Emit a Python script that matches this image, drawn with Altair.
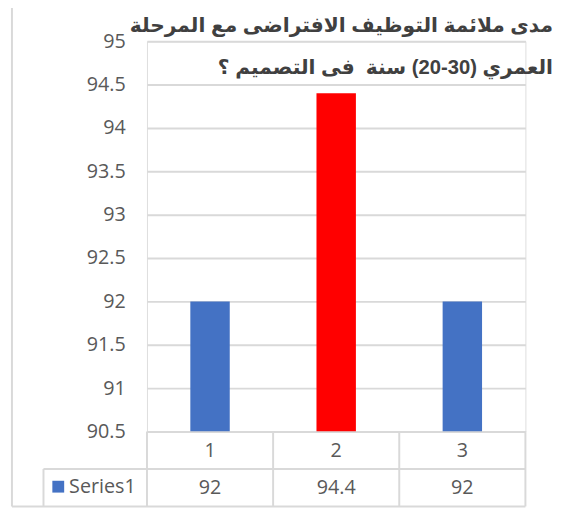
import altair as alt
import pandas as pd

categories = ["1", "2", "3"]
values = [92, 94.4, 92]
bar_colors = ["#4472C4", "#FF0000", "#4472C4"]
y_ticks = [90.5, 91, 91.5, 92, 92.5, 93, 93.5, 94, 94.5, 95]
series_name = "Series1"
series_color = "#4472C4"
RLE, LRE, PDF = "\u202b", "\u202a", "\u202c"
title_lines = [
    "مدى ملائمة التوظيف الافتراضى مع المرحلة",
    "العمري (" + LRE + "20-30" + PDF + ") سنة\u00a0 فى التصميم ؟",
]

df = pd.DataFrame({
    "cat": categories,
    "val": values,
    "label": [f"{v:g}" for v in values],
})

W, H = 384, 396
GRID = "#D9D9D9"
TXT = "#595959"
FONT = "Open Sans"
FS = 20
TITLE_FONT = "Liberation Sans, DejaVu Sans"

x_enc = alt.X(
    "cat:N", sort=categories,
    scale=alt.Scale(paddingInner=0.6875, paddingOuter=0.34375),
    axis=alt.Axis(title=None, labelAngle=0, ticks=False, domain=False, grid=False,
                  labelFont=FONT, labelFontSize=FS, labelColor=TXT,
                  labelPadding=19, labelBaseline="middle"),
)
y_enc = alt.Y(
    "val:Q",
    scale=alt.Scale(domain=[90.5, 95], zero=False, nice=False),
    axis=alt.Axis(title=None, values=y_ticks, format=".1~f", ticks=False, domain=False,
                  grid=True, gridColor=GRID, gridWidth=2,
                  labelFont=FONT, labelFontSize=FS, labelColor=TXT,
                  labelPadding=22, labelFlush=False, labelOverlap=False),
)

bars = alt.Chart(df).mark_bar(clip=True).encode(
    x=x_enc,
    y=y_enc,
    y2=alt.datum(90.5),
    color=alt.Color("cat:N", scale=alt.Scale(domain=categories, range=bar_colors), legend=None),
)

value_text = alt.Chart(df).mark_text(
    font=FONT, fontSize=FS, color=TXT, baseline="middle", align="center"
).encode(
    x=alt.X("cat:N", sort=categories),
    y=alt.value(453),
    text="label:N",
)

one = pd.DataFrame({"a": [0]})


def rule(x1, y1, x2, y2):
    return alt.Chart(one).mark_rule(color=GRID, strokeWidth=2).encode(
        x=alt.value(x1), x2=alt.value(x2), y=alt.value(y1), y2=alt.value(y2)
    )


rules = [
    # outer chart border
    rule(-137, -37, -137, 472),
    rule(-137, -37, 413, -37),
    rule(-137, 472, 384, 472),
    # data table grid
    rule(-105, 434, 384, 434),
    rule(-105, 434, -105, 472),
    rule(0, 396, 0, 472),
    rule(128, 396, 128, 472),
    rule(256, 396, 256, 472),
    rule(384, 396, 384, 472),
]

legend_key = alt.Chart(one).mark_rect(color=series_color).encode(
    x=alt.value(-96), x2=alt.value(-84), y=alt.value(446), y2=alt.value(458)
)
legend_text = alt.Chart(one).mark_text(
    font=FONT, fontSize=FS, color=TXT, align="left", baseline="middle", text=series_name
).encode(x=alt.value(-79), y=alt.value(452))


def title_line(txt, y):
    return alt.Chart(one).mark_text(
        font=TITLE_FONT, fontSize=20.5, fontWeight="bold", color="#404040",
        align="right", baseline="alphabetic", text=RLE + txt + PDF
    ).encode(x=alt.value(412), y=alt.value(y))


chart = alt.layer(
    bars, *rules, value_text, legend_key, legend_text,
    title_line(title_lines[0], -9), title_line(title_lines[1], 33)
).properties(
    width=W, height=H,
    autosize=alt.AutoSizeParams(type="none"),
    padding={"left": 141, "top": 30, "right": 29, "bottom": 78},
).configure_view(stroke=None).configure(background="white")

chart.save("out.html", embed_options={"renderer": "svg", "actions": False})
